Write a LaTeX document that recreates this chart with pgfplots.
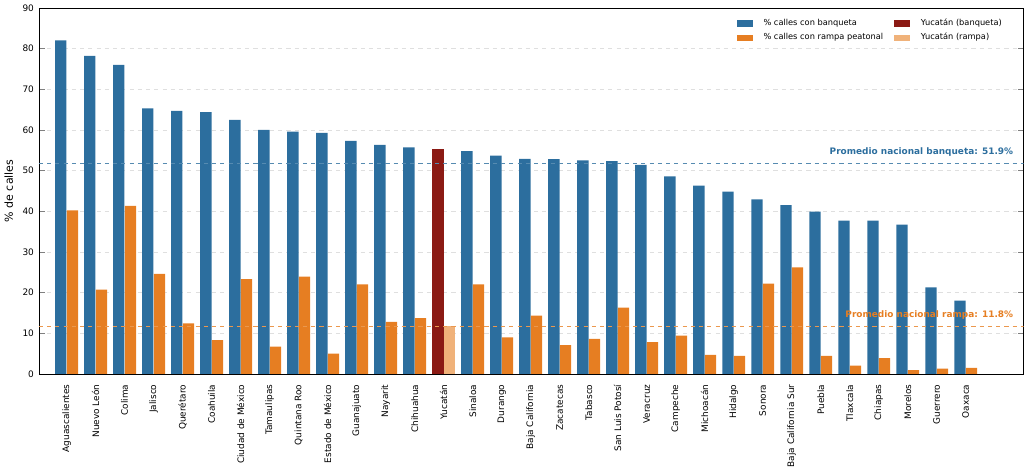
\documentclass[border=0pt]{standalone}
\usepackage{pgfplots}
\pgfplotsset{compat=1.18}
\usepackage{fontspec}
\setmainfont{DejaVu Sans}
\definecolor{cblue}{HTML}{2C6E9E}
\definecolor{corange}{HTML}{E67E22}
\definecolor{cred}{HTML}{8B1A14}
\definecolor{clight}{HTML}{F0B27A}
\begin{document}
\begin{tikzpicture}[font=\fontsize{6.5}{7.5}\selectfont]
\begin{axis}[
 scale only axis, width=716pt, height=266pt,
 xmin=-0.96, xmax=33, ymin=0, ymax=90,
 ybar, bar width=0.39,
 xtick={0,...,31}, xtick style={draw=none},
 xticklabels={Aguascalientes,Nuevo León,Colima,Jalisco,Querétaro,Coahuila,Ciudad de México,Tamaulipas,Quintana Roo,Estado de México,Guanajuato,Nayarit,Chihuahua,Yucatán,Sinaloa,Durango,Baja California,Zacatecas,Tabasco,San Luis Potosí,Veracruz,Campeche,Michoacán,Hidalgo,Sonora,Baja California Sur,Puebla,Tlaxcala,Chiapas,Morelos,Guerrero,Oaxaca},
 xticklabel style={rotate=90, anchor=east},
 ytick={0,10,...,90},
 /pgf/number format/assume math mode=true,
 ymajorgrids, grid style={dashed, gray!25},
 ylabel={\% de calles}, ylabel style={font=\fontsize{8}{9}\selectfont},
 legend style={at={(0.985,0.985)}, anchor=north east, draw=none, fill=white, font=\fontsize{6}{7}\selectfont, column sep=6pt},
 legend columns=2, legend cell align=left,
 legend image code/.code={\draw[#1,draw=none] (0cm,-0.08cm) rectangle (0.4cm,0.08cm);},
 transpose legend,
]
\addplot[fill=cblue, draw=none, bar shift=-0.2] coordinates {
(0,82) (1,78.2) (2,76) (3,65.3) (4,64.7) (5,64.4) (6,62.5) (7,60) (8,59.6) (9,59.3) (10,57.3) (11,56.3) (12,55.7) (14,54.8) (15,53.7) (16,52.9) (17,52.8) (18,52.5) (19,52.3) (20,51.4) (21,48.6) (22,46.3) (23,44.8) (24,42.9) (25,41.5) (26,39.9) (27,37.7) (28,37.7) (29,36.7) (30,21.3) (31,18)};
\addlegendentry{\% calles con banqueta}
\addplot[fill=corange, draw=none, bar shift=0.2] coordinates {
(0,40.2) (1,20.7) (2,41.3) (3,24.6) (4,12.4) (5,8.3) (6,23.3) (7,6.7) (8,23.9) (9,5) (10,22) (11,12.8) (12,13.7) (14,22) (15,9) (16,14.3) (17,7.1) (18,8.6) (19,16.3) (20,7.8) (21,9.4) (22,4.7) (23,4.4) (24,22.2) (25,26.2) (26,4.4) (27,2) (28,3.9) (29,0.9) (30,1.3) (31,1.5)};
\addlegendentry{\% calles con rampa peatonal}
\addplot[fill=cred, draw=none, bar shift=-0.2] coordinates {(13,55.3)};
\addlegendentry{Yucatán (banqueta)}
\addplot[fill=clight, draw=none, bar shift=0.2] coordinates {(13,11.8)};
\addlegendentry{Yucatán (rampa)}
\addplot[sharp plot, cblue!80, dashed, thin, forget plot] coordinates {(-0.96,51.9) (33,51.9)};
\addplot[sharp plot, corange!80, dashed, thin, forget plot] coordinates {(-0.96,11.8) (33,11.8)};
\node[anchor=south east, text=cblue, font=\fontsize{6.5}{7.5}\selectfont\bfseries] at (axis cs:32.8,52.3) {Promedio nacional banqueta: 51.9\%};
\node[anchor=south east, text=corange, font=\fontsize{6.5}{7.5}\selectfont\bfseries] at (axis cs:32.8,12.2) {Promedio nacional rampa: 11.8\%};
\end{axis}
\end{tikzpicture}
\end{document}
